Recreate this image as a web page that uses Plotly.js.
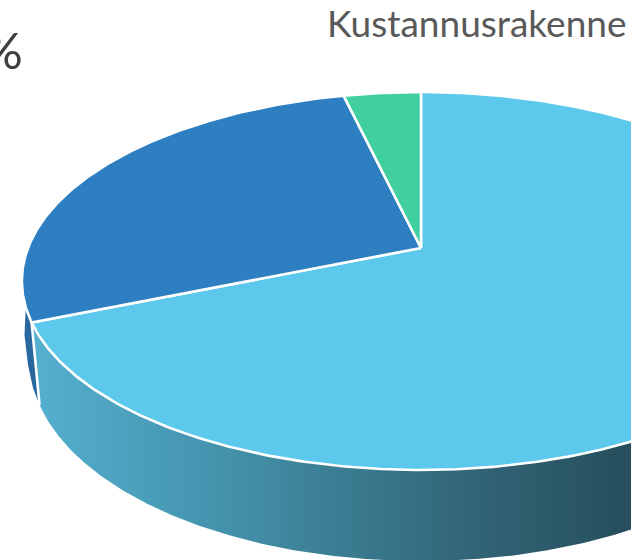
<!DOCTYPE html>
<html>
<head>
<meta charset="utf-8">
<script src="https://cdn.plot.ly/plotly-3.0.1.min.js"></script>
<style>html,body{margin:0;padding:0;background:#fff;overflow:hidden}#c{width:631px;height:560px}</style>
</head>
<body>
<div id="c"></div>
<script>
// Chart data
var categories = ['Vaalea osuus', 'Tumma osuus', 'Vihreä osuus'];
var shares = [68.8, 27.5, 3.7];
var topColors = ['#5BC8EC', '#2E7FC1', '#42CFA0'];
var chartTitle = 'Kustannusrakenne';
var clippedLabel = '%';

// Perspective of the tilted disc (pixels on a 631x560 axis)
var apex = [421, 248];
var topDisc = {y0: 248, a: 393, b: 183.2};
var lowDisc = {y0: 326, a: 385, b: 194};
var tilt = 0.1746;

function rim(d, deg) {
  var t = deg * Math.PI / 180, u = Math.sin(t), v = Math.cos(t), w = 1 + tilt * v;
  return [apex[0] + d.a * u / w, d.y0 - d.b * v / w];
}
function arc(d, from, to) {
  var pts = [], n = Math.ceil(Math.abs(to - from) * 2);
  for (var i = 0; i <= n; i++) pts.push(rim(d, from + (to - from) * i / n));
  return pts;
}
function xs(p) { return p.map(function (q) { return q[0]; }); }
function ys(p) { return p.map(function (q) { return q[1]; }); }

var total = shares.reduce(function (a, b) { return a + b; }, 0);
var edges = [0];
shares.forEach(function (s, i) { edges.push(edges[i] + s / total * 360); });

var traces = [];
// Light wall
var wall = arc(topDisc, 60, edges[1]).concat(arc(lowDisc, edges[1], 60));
traces.push({
  type: 'scatter', mode: 'lines', x: xs(wall), y: ys(wall), fill: 'toself',
  line: {width: 0, color: 'rgba(0,0,0,0)'}, hoverinfo: 'skip',
  fillgradient: {type: 'horizontal', start: 35, stop: 631,
    colorscale: [[0, '#55AFCF'], [0.28, '#4596B0'], [0.7, '#33687A'], [1, '#264E5C']]}
});
// Dark wall sliver
var sliver = arc(topDisc, edges[1], edges[1] + 4.5);
var lowPt = rim(lowDisc, edges[1]);
var sliverPts = sliver.concat([[24.5, 335], [28, 365], [33, 388], lowPt]);
traces.push({
  type: 'scatter', mode: 'lines', x: xs(sliverPts), y: ys(sliverPts), fill: 'toself',
  fillcolor: '#28689F', line: {width: 0, color: 'rgba(0,0,0,0)'}, hoverinfo: 'skip'
});
// Top slices
shares.forEach(function (s, i) {
  var p = [apex].concat(arc(topDisc, edges[i], edges[i + 1])).concat([apex]);
  traces.push({
    type: 'scatter', mode: 'lines', name: categories[i], x: xs(p), y: ys(p), fill: 'toself',
    fillcolor: topColors[i], line: {width: 2.6, color: '#FFFFFF'}, hoverinfo: 'name'
  });
});
// Wall seam
var seam = [rim(topDisc, edges[1]), lowPt];
traces.push({
  type: 'scatter', mode: 'lines', x: xs(seam), y: ys(seam),
  line: {width: 2.6, color: '#FFFFFF'}, hoverinfo: 'skip'
});

var layout = {
  width: 631, height: 560,
  margin: {l: 0, r: 0, t: 0, b: 0},
  paper_bgcolor: '#FFFFFF', plot_bgcolor: '#FFFFFF',
  showlegend: false,
  xaxis: {range: [0, 631], visible: false, fixedrange: true},
  yaxis: {range: [560, 0], visible: false, fixedrange: true},
  annotations: [
    {x: 325, y: 22, xref: 'x', yref: 'y', xanchor: 'left', yanchor: 'middle', showarrow: false,
     text: chartTitle, font: {family: 'Lato, "Open Sans", sans-serif', size: 37, color: '#595959'}},
    {x: 25, y: 49, xref: 'x', yref: 'y', xanchor: 'right', yanchor: 'middle', showarrow: false,
     text: clippedLabel, font: {family: 'Lato, "Open Sans", sans-serif', size: 51, color: '#404040'}}
  ]
};
Plotly.newPlot('c', traces, layout, {displayModeBar: false, staticPlot: true});
</script>
</body>
</html>
